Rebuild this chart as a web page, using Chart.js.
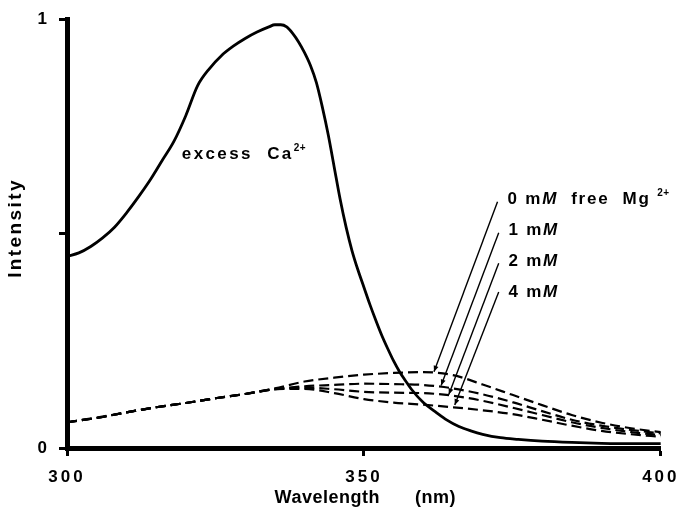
<!DOCTYPE html>
<html><head><meta charset="utf-8">
<script src="https://cdn.jsdelivr.net/npm/chart.js@4"></script>
<style>html,body{margin:0;padding:0;background:#fff}</style>
</head><body>
<canvas id="c" width="686" height="510"></canvas>
<script>
// ---- data ----
const solidNm  = [300,302,304,306,308,310,312,314,316,318,320,322,324,326,328,330,332,334,335,336,337,338,339,340,341,342,343,344,345,346,347,348,349,350,351,352,353,354,355,356,357,358,360,362,364,366,368,370,373,376,380,385,390,395,400];
const excessCa = [0.447,0.455,0.47,0.49,0.515,0.548,0.585,0.625,0.67,0.715,0.775,0.845,0.885,0.915,0.937,0.955,0.97,0.982,0.987,0.987,0.982,0.967,0.947,0.922,0.892,0.852,0.795,0.73,0.655,0.58,0.515,0.46,0.415,0.375,0.335,0.298,0.263,0.232,0.203,0.178,0.157,0.137,0.106,0.085,0.065,0.05,0.04,0.032,0.024,0.02,0.016,0.013,0.011,0.01,0.01];

const dashedNm = [300,305,310,315,320,325,330,335,340,345,350,355,360,365,370,375,380,385,390,395,400];
const mg0mM = [0.060,0.071,0.083,0.095,0.105,0.116,0.126,0.139,0.155,0.164,0.171,0.175,0.177,0.170,0.148,0.124,0.100,0.077,0.059,0.046,0.037];
const mg1mM = [0.060,0.070,0.083,0.095,0.105,0.116,0.126,0.137,0.144,0.147,0.150,0.149,0.147,0.139,0.125,0.107,0.086,0.066,0.052,0.042,0.034];
const mg2mM = [0.060,0.070,0.083,0.095,0.105,0.116,0.126,0.137,0.141,0.137,0.131,0.129,0.128,0.122,0.110,0.094,0.077,0.060,0.047,0.037,0.030];
const mg4mM = [0.060,0.070,0.083,0.095,0.105,0.116,0.126,0.137,0.138,0.128,0.114,0.106,0.101,0.095,0.088,0.079,0.066,0.052,0.040,0.032,0.026];

const seriesNames = ['excess Ca2+','0 mM free Mg2+','1 mM','2 mM','4 mM'];
const xTickValues = [300,350,400];
const yTickValues = [0,0.5,1];
const yTickLabels = ['0','','1'];

// ---- helpers ----
const pts = (xs, ys) => xs.map((x, i) => ({x, y: ys[i]}));
const FONT = "'Liberation Sans', Arial, Helvetica, sans-serif";

// annotation anchors (data units)
const pointers = [
  {from:[372.5,0.574], to:[361.8,0.178]},
  {from:[372.7,0.502], to:[363.0,0.146]},
  {from:[372.7,0.431], to:[364.3,0.125]},
  {from:[372.7,0.364], to:[365.3,0.100]}
];
const textLabels = [
  {at:[374.17,0.581], ls:1.8, runs:[['0 m','n'],['M','i'],['  free  Mg','n'],[' ','n'],['2+','s']]},
  {at:[374.33,0.507], ls:1.8, runs:[['1 m','n'],['M','i']]},
  {at:[374.33,0.435], ls:1.8, runs:[['2 m','n'],['M','i']]},
  {at:[374.33,0.363], ls:1.8, runs:[['4 m','n'],['M','i']]},
  {at:[319.33,0.685], ls:2.4, runs:[['excess  Ca','n'],['2+','s']]}
];

function drawRuns(ctx, x, y, runs, ls) {
  ctx.textAlign = 'left';
  ctx.textBaseline = 'middle';
  ctx.letterSpacing = ls + 'px';
  let cx = x;
  for (const [t, st] of runs) {
    let dy = 0;
    if (st === 'i') ctx.font = 'italic bold 17px ' + FONT;
    else if (st === 's') { ctx.font = 'bold 10px ' + FONT; dy = -6; ctx.letterSpacing = '0.5px'; }
    else ctx.font = 'bold 17px ' + FONT;
    ctx.fillText(t, cx, y + dy);
    cx += ctx.measureText(t).width;
    ctx.letterSpacing = ls + 'px';
  }
}

const annot = {
  id: 'annot',
  beforeDraw(chart) {
    chart.ctx.letterSpacing = '3px';
  },
  afterDraw(chart) {
    const ctx = chart.ctx, xs = chart.scales.x, ys = chart.scales.y;
    ctx.save();
    ctx.fillStyle = '#000';
    ctx.strokeStyle = '#000';
    // pointer lines with arrowheads
    ctx.lineWidth = 1.4;
    for (const p of pointers) {
      const x1 = xs.getPixelForValue(p.from[0]), y1 = ys.getPixelForValue(p.from[1]);
      const x2 = xs.getPixelForValue(p.to[0]), y2 = ys.getPixelForValue(p.to[1]);
      ctx.beginPath(); ctx.moveTo(x1, y1); ctx.lineTo(x2, y2); ctx.stroke();
      const a = Math.atan2(y2 - y1, x2 - x1), L = 6, W = 2.5;
      ctx.beginPath();
      ctx.moveTo(x2, y2);
      ctx.lineTo(x2 - L*Math.cos(a) + W*Math.sin(a), y2 - L*Math.sin(a) - W*Math.cos(a));
      ctx.lineTo(x2 - L*Math.cos(a) - W*Math.sin(a), y2 - L*Math.sin(a) + W*Math.cos(a));
      ctx.closePath(); ctx.fill();
    }
    // labels
    for (const l of textLabels) {
      drawRuns(ctx, xs.getPixelForValue(l.at[0]), ys.getPixelForValue(l.at[1]), l.runs, l.ls);
    }
    // axis titles
    const ca = chart.chartArea;
    const cx = (ca.left + ca.right) / 2;
    ctx.font = 'bold 18px ' + FONT;
    ctx.letterSpacing = '0.5px';
    ctx.textBaseline = 'middle';
    ctx.textAlign = 'right';
    ctx.fillText('Wavelength', cx + 16, 498);
    ctx.textAlign = 'left';
    ctx.fillText('(nm)', cx + 51, 498);
    ctx.save();
    ctx.translate(16, 228);
    ctx.rotate(-Math.PI / 2);
    ctx.font = 'bold 19px ' + FONT;
    ctx.letterSpacing = '2.4px';
    ctx.textAlign = 'center';
    ctx.fillText('Intensity', 0, 0);
    ctx.restore();
    ctx.restore();
  }
};

const dashStyle = {borderColor:'#000', borderWidth:2.2, borderDash:[10,5], pointRadius:0, fill:false, cubicInterpolationMode:'monotone'};

new Chart(document.getElementById('c'), {
  type: 'line',
  data: {
    datasets: [
      {label: seriesNames[0], data: pts(solidNm, excessCa), borderColor:'#000', borderWidth:2.8, pointRadius:0, fill:false, cubicInterpolationMode:'monotone'},
      Object.assign({label: seriesNames[1], data: pts(dashedNm, mg0mM)}, dashStyle),
      Object.assign({label: seriesNames[2], data: pts(dashedNm, mg1mM)}, dashStyle),
      Object.assign({label: seriesNames[3], data: pts(dashedNm, mg2mM)}, dashStyle),
      Object.assign({label: seriesNames[4], data: pts(dashedNm, mg4mM)}, dashStyle)
    ]
  },
  options: {
    responsive: false,
    animation: false,
    events: [],
    layout: {padding: {left: 0, right: 19, top: 16, bottom: 0}},
    plugins: {legend: {display: false}, tooltip: {enabled: false}},
    scales: {
      x: {
        type: 'linear', min: 300, max: 400,
        afterBuildTicks: s => { s.ticks = xTickValues.map(v => ({value: v})); },
        afterFit: s => { s.height = 62; },
        border: {display: true, width: 5, color: '#000'},
        grid: {drawOnChartArea: false, drawTicks: true, tickLength: 8, tickWidth: 3, tickColor: '#000'},
        ticks: {color: '#000', padding: 11, font: {family: FONT, size: 17, weight: 'bold'}, maxRotation: 0,
                callback: (v) => String(v)}
      },
      y: {
        type: 'linear', min: 0, max: 1,
        afterBuildTicks: s => { s.ticks = yTickValues.map(v => ({value: v})); },
        afterFit: s => { s.width = 67; },
        border: {display: true, width: 5, color: '#000'},
        grid: {drawOnChartArea: false, drawTicks: true, tickLength: 8, tickWidth: 3, tickColor: '#000'},
        ticks: {color: '#000', padding: 9, font: {family: FONT, size: 17, weight: 'bold'},
                callback: (v, i) => yTickLabels[i]}
      }
    }
  },
  plugins: [annot]
});
</script>
</body></html>
